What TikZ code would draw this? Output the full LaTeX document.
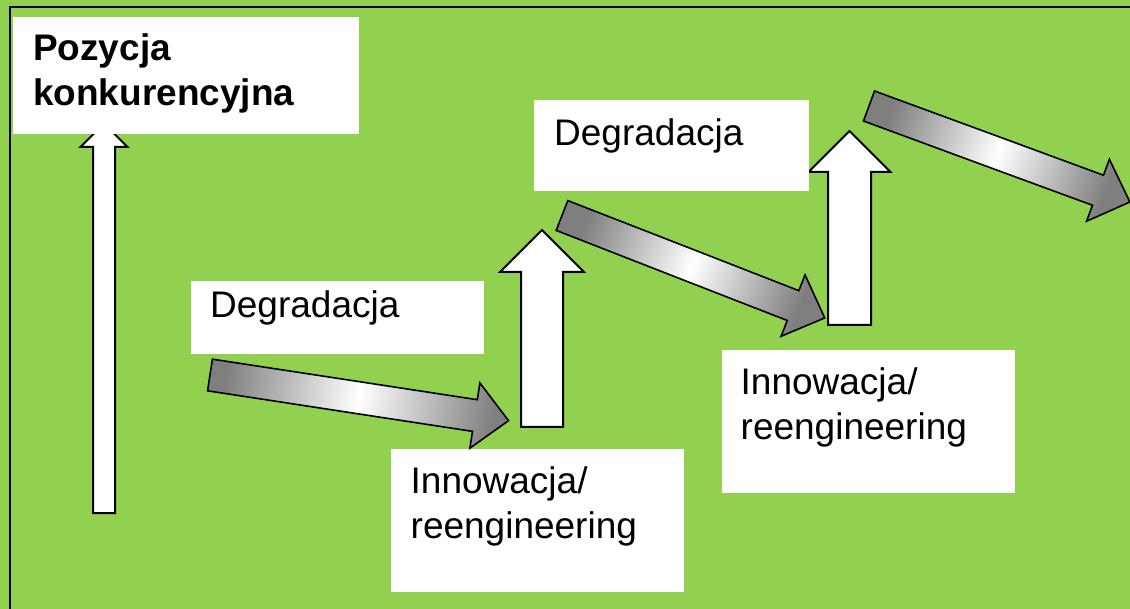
\documentclass[tikz,border=0pt]{standalone}
\usepackage{fontspec}
\setmainfont{Liberation Sans}
\usetikzlibrary{calc}
\definecolor{bggreen}{HTML}{92D050}
\definecolor{arrowgray}{HTML}{7F7F7F}
\tikzset{
  panel/.style={fill=white,draw=none,inner sep=0pt,outer sep=0pt,anchor=north west},
  lbl/.style={anchor=base west,align=left,inner sep=0pt,text width=300,font=\fontsize{37}{45}\selectfont},
  heading/.style={lbl,font=\fontsize{37}{45}\selectfont\bfseries},
  uparr/.style={fill=white,draw=black,line width=2pt,line join=miter},
  slant/.style={draw=black,line width=1.6pt,left color=arrowgray,right color=arrowgray,middle color=white},
}

\begin{document}
\begin{tikzpicture}[x=1pt,y=-1pt]
  \useasboundingbox (0,0) rectangle (1130,609);
  \clip (0,0) rectangle (1130,609);
  \fill[bggreen] (0,0) rectangle (1130,609);
  \draw[line width=2.5pt] (10,7) rectangle (1145,625);
  % white arrows going up
  \foreach \cx/\s/\h/\b/\sh/\t in {104/11/23.5/513/147/123.5, 542/21/42/427/272/230, 849.5/21.5/41/325/172/131}
    \draw[uparr] ({\cx-\s},\b) -- ({\cx-\s},\sh) -- ({\cx-\h},\sh) -- (\cx,\t) -- ({\cx+\h},\sh) -- ({\cx+\s},\sh) -- ({\cx+\s},\b) -- cycle;
  % white boxes
  \node[panel,minimum width=346,minimum height=117] (posbox) at (13,17) {};
  \node[panel,minimum width=293,minimum height=73] (degbox1) at (191,281) {};
  \node[panel,minimum width=293,minimum height=143] (innbox1) at (391,449) {};
  \node[panel,minimum width=275,minimum height=91] (degbox2) at (534,100) {};
  \node[panel,minimum width=293,minimum height=143] (innbox2) at (722,350) {};
  \node[heading] (postxt) at (33,61) {Pozycja\\konkurencyjna};
  \node[lbl] (degtxt1) at (210,318) {Degradacja};
  \node[lbl] (inntxt1) at (410.5,493) {Innowacja/\\reengineering};
  \node[lbl] (degtxt2) at (554,146) {Degradacja};
  \node[lbl] (inntxt2) at (740.5,395) {Innowacja/\\reengineering};
  % shaded arrows going down
  \foreach \tx/\ty/\ang/\len in {210/375/-8.7/302, 562/215.5/-21.3/282, 869/106/-20.2/278}
    \path[slant,shading angle={90+\ang},shift={(\tx,\ty)},rotate=\ang] (0,-16) -- ({\len-34},-16) -- ({\len-34},-33) -- (\len,0) -- ({\len-34},33) -- ({\len-34},16) -- (0,16) -- cycle;
\end{tikzpicture}
\end{document}
